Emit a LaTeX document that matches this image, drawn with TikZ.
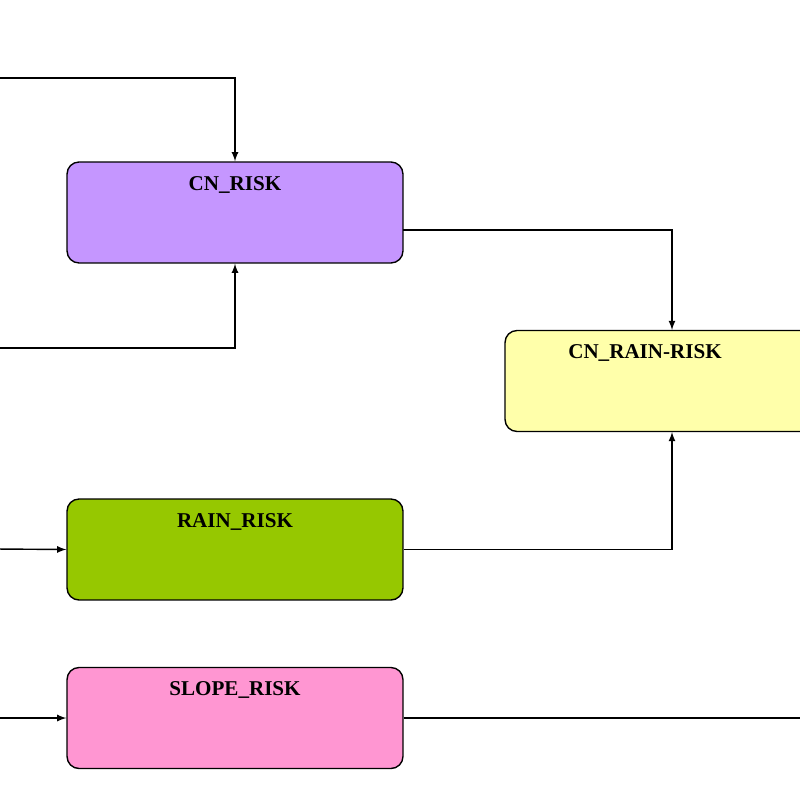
\documentclass[tikz,border=0pt]{standalone}
\usepackage{fontspec}
\setmainfont{Liberation Serif}
\usetikzlibrary{arrows}
\definecolor{cnpurple}{RGB}{197,150,255}
\definecolor{rainyellow}{RGB}{255,255,170}
\definecolor{raingreen}{RGB}{150,200,0}
\definecolor{slopepink}{RGB}{255,150,210}
\begin{document}
\begin{tikzpicture}[
		x=0.02cm, y=-0.02cm,
		risk/.style={rectangle,rounded corners=0.24cm,draw=black,thick,
		inner sep=0pt,minimum width=6.72cm,minimum height=2.02cm,
		text height=0.3cm,text depth=1.2cm,font=\bfseries\large},
		link/.style={>=latex,draw=black,thick,->}
		]
		\useasboundingbox (0,0) rectangle (800,800);
		\clip (0,0) rectangle (800,800);
		\node[risk,fill=cnpurple] (cn) at (235,212.5) {CN\_RISK};
		\node[risk,fill=rainyellow,minimum width=7cm] (cnrain) at (680,381) {\hspace*{-1.4cm}CN\_RAIN-RISK};
		\node[risk,fill=raingreen] (rain) at (235,549.5) {RAIN\_RISK};
		\node[risk,fill=slopepink] (slope) at (235,718) {SLOPE\_RISK};
		% free ends at the picture edges
		\coordinate (intop) at (-5,78);
		\coordinate (inbot) at (-5,348);
		\coordinate (inrain) at (-5,549);
		\coordinate (inslope) at (-5,718);
		\coordinate (outslope) at (805,718);
		\coordinate (cnout) at (403,230);
		\coordinate (rainin) at (672,330);
		\coordinate (rainin2) at (672,432);
		\draw[link] (intop) -| (cn.north);
		\draw[link] (inbot) -| (cn.south);
		\draw[link] (cnout) -| (rainin);
		\draw[link] (rain.east) -| (rainin2);
		\draw[link] (inrain) -- (rain.west);
		\draw[link] (inslope) -- (slope.west);
		\draw[thick] (slope.east) -- (outslope);
	\end{tikzpicture}
\end{document}
